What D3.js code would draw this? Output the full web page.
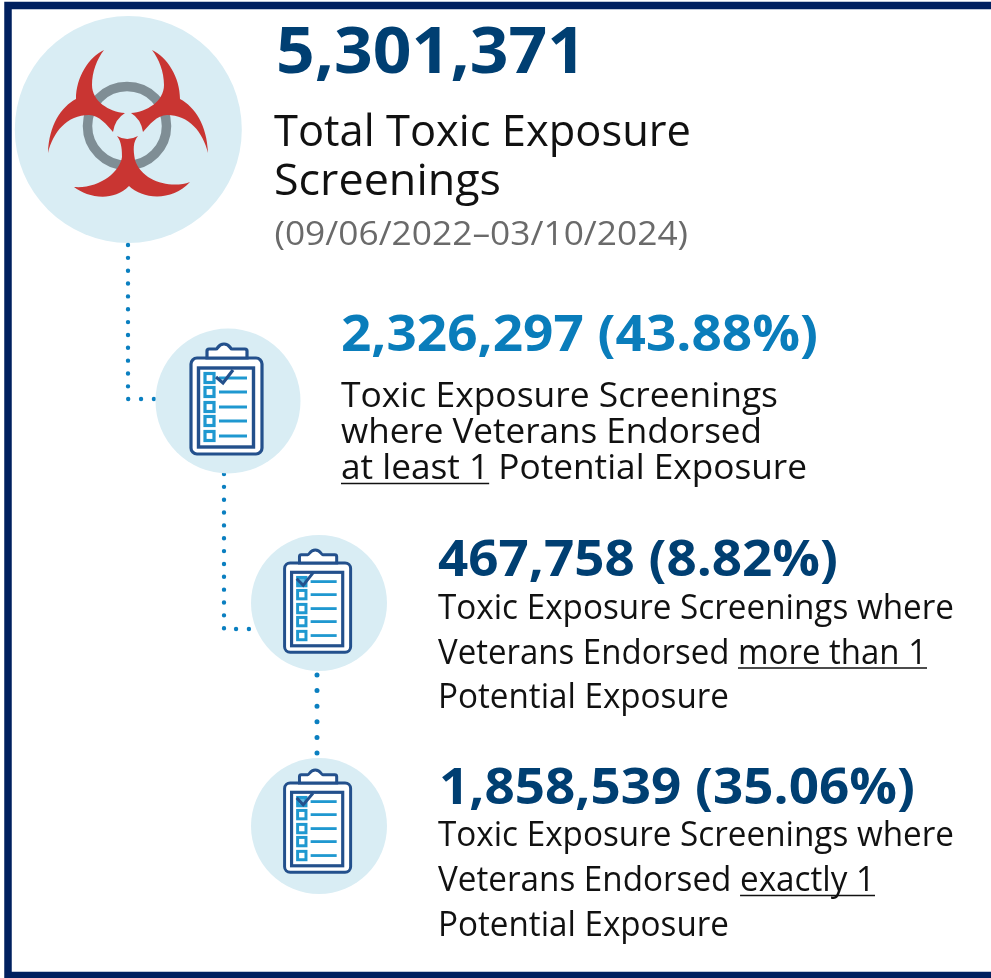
<!DOCTYPE html>
<html><head><meta charset="utf-8">
<script src="https://cdn.jsdelivr.net/npm/d3@7/dist/d3.min.js"></script>
<style>html,body{margin:0;padding:0;background:#fff}svg{display:block;filter:blur(.4px)}text{font-family:"Open Sans",sans-serif}</style>
</head><body><svg id="c" width="991" height="978"></svg>
<script>
const totalValue = 5301371;
const totalTitle = ["Total Toxic Exposure", "Screenings"];
const totalPeriod = "(09/06/2022–03/10/2024)";
const stepValues = [2326297, 467758, 1858539];
const stepPercents = [43.88, 8.82, 35.06];
const stepLines = [
  ["Toxic Exposure Screenings", "where Veterans Endorsed", "at least 1 Potential Exposure"],
  ["Toxic Exposure Screenings where", "Veterans Endorsed more than 1", "Potential Exposure"],
  ["Toxic Exposure Screenings where", "Veterans Endorsed exactly 1", "Potential Exposure"]
];
const stepEmphasis = ["at least 1", "more than 1", "exactly 1"];

// layout
const NAVY="#003f72", BLUE="#0a7dbb", DOT="#0a7fc0", PALE="#d9edf4", FRAME="#00205f", INK="#111";
const svg=d3.select("#c");
const fmt=d3.format(",");
const stepLayout=[
 {cx:228,cy:401,r:72.5,s:1,dy:0,tx:341,headY:351,headW:477,size:50,head:BLUE,ys:[407,443,479],ws:[437,421,466],fs:35,ck:[[-12,-24],[-5,-18],[5,-31]],fillFirst:false},
 {cx:319,cy:603,r:68,s:.93,dy:0,tx:438,headY:575.5,headW:400,size:51,head:NAVY,ys:[618.5,663.5,708],ws:[516,489,291],fs:34.5,ck:[[-24,-26],[-17,-19],[-6,-33]],fillFirst:true},
 {cx:319,cy:826,r:68,s:.93,dy:-3,tx:438,headY:803.5,headW:476,size:51,head:NAVY,ys:[846,891,936],ws:[516,437,291],fs:34.5,ck:[[-24,-27],[-17,-19.5],[-6.5,-32]],fillFirst:true}
];

// frame
svg.append("path").attr("d","M991 5.5H8V975.5H991").attr("fill","none").attr("stroke",FRAME).attr("stroke-width",7.5);

// connectors
const connectors=["M128 245V399H154","M224 474V629H250","M317 675V755"];
svg.selectAll("path.dots").data(connectors).join("path").attr("class","dots").attr("d",d=>d)
  .attr("fill","none").attr("stroke",DOT).attr("stroke-linecap","round")
  .attr("stroke-width",(d,i)=>i==2?5:4.4)
  .attr("stroke-dasharray",(d,i)=>i==2?"0 15.6":"0 12.85");

// biohazard
svg.insert("circle",".dots").attr("cx",128.3).attr("cy",129.5).attr("r",113.5).attr("fill",PALE);
const bio=svg.append("g").attr("transform","translate(127,127)");
bio.append("circle").attr("cy",-1).attr("r",39.5).attr("fill","none").attr("stroke","#7f8e95").attr("stroke-width",9.5);
const armRight="M25 -77 C40 -70 53 -50 53 -28 C68 -20 80 -2 81 26 C76 5 62 -12 40 -12 C30 -12 22 -2 16 5 Q14 -8 4 -14 C20 -15 37 -26 37 -42 C37 -55 32 -68 25 -77Z";
const armBottom="M-53 60 C-40 70 -15 76 2 59 C15 72 45 75 63 55 C45 62 15 55 8 33 C6 22 6 15 11 9 Q0 15 -10 9 C-5 15 -5 25 -5 30 C-7 45 -28 62 -53 60Z";
bio.append("path").attr("d",armRight).attr("fill","#c93532");
bio.append("path").attr("d",armRight).attr("fill","#c93532").attr("transform","translate(2,0) scale(-1,1)");
bio.append("path").attr("d",armBottom).attr("fill","#c93532");

// steps
const groups=svg.selectAll("g.step").data(stepLayout).join("g").attr("class","step").attr("transform",d=>`translate(${d.cx},${d.cy})`);
groups.append("circle").attr("r",d=>d.r).attr("fill",PALE);
const icon=groups.append("g").attr("transform",d=>`translate(0,${d.dy}) scale(${d.s})`);
const IC="#23508c", IB="#1f98d0";
icon.append("rect").attr("x",-37).attr("y",-43).attr("width",71).attr("height",96).attr("rx",6).attr("fill","#fff").attr("stroke",IC).attr("stroke-width",3.2);
icon.append("path").attr("d","M-21 -43V-50Q-21 -52 -19 -52H-12C-10 -52 -10 -57 -4 -57S2 -52 4 -52H17Q19 -52 19 -50V-43Z").attr("fill","#fff").attr("stroke",IC).attr("stroke-width",3.2);
icon.append("rect").attr("x",-29.5).attr("y",-33).attr("width",55).attr("height",79).attr("fill","#fff").attr("stroke",IC).attr("stroke-width",3.4);
const rows=[-23,-9,6,20,35];
rows.forEach((y,i)=>{
  icon.append("rect").attr("x",-23).attr("y",y-4.5).attr("width",9).attr("height",9)
    .attr("fill",d=>i==0&&d.fillFirst?"#5fb6de":"#fff").attr("stroke",IB).attr("stroke-width",3.2);
  icon.append("line").attr("x1",-9).attr("x2",19).attr("y1",y).attr("y2",y).attr("stroke",IB).attr("stroke-width",3);
});
icon.append("path").attr("d",d=>d3.line()(d.ck)).attr("fill","none").attr("stroke",IC).attr("stroke-width",3.2);

// fitted text helper
function put(parent,str,x,y,size,w,fill,weight,emph){
  const t=parent.append("text").attr("x",x).attr("y",y).attr("font-size",size).attr("fill",fill).attr("font-weight",weight||400)
    .attr("textLength",w).attr("lengthAdjust","spacingAndGlyphs").text(str);
  if(emph&&str.includes(emph)){
    const i=str.indexOf(emph),n=t.node();
    const a=n.getStartPositionOfChar(i).x,b=n.getEndPositionOfChar(i+emph.length-1).x;
    parent.append("line").attr("x1",a).attr("x2",b).attr("y1",y+4.5).attr("y2",y+4.5).attr("stroke",INK).attr("stroke-width",1.6);
  }
}
put(svg,fmt(totalValue),276,73,65,310,NAVY,700);
[[146,417],[195,227]].forEach((p,i)=>put(svg,totalTitle[i],274,p[0],44,p[1],INK));
put(svg,totalPeriod,274.5,245,32,413.5,"#6a6a6a");
stepLayout.forEach((L,k)=>{
  put(svg,`${fmt(stepValues[k])} (${d3.format(".2f")(stepPercents[k])}%)`,L.tx+(k==2?1:0),L.headY,L.size,L.headW,L.head,700);
  stepLines[k].forEach((s,i)=>put(svg,s,L.tx,L.ys[i],L.fs,L.ws[i],INK,400,stepEmphasis[k]));
});
</script></body></html>
